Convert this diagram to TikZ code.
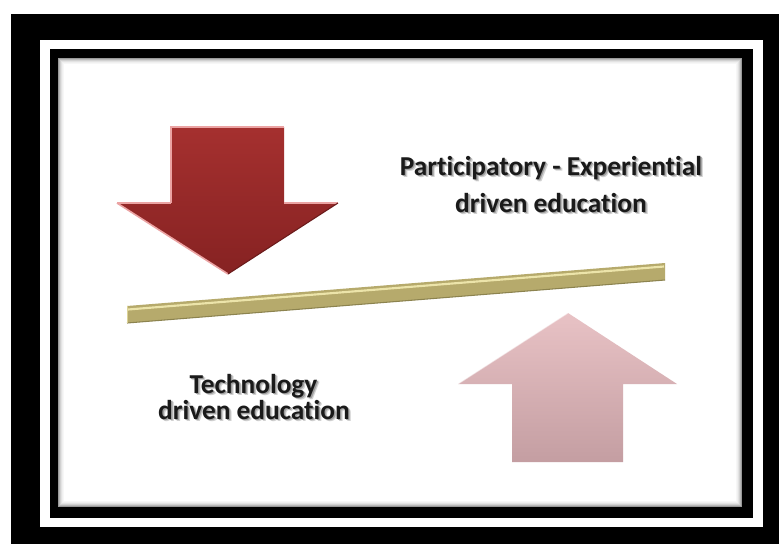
\documentclass[tikz,border=0pt]{standalone}
\usepackage{fontspec}
\setmainfont{Carlito}[Ligatures=NoCommon]
\definecolor{redA}{HTML}{A5302F}
\definecolor{redB}{HTML}{862222}
\definecolor{redHi}{HTML}{EBA3A3}
\definecolor{pinkA}{HTML}{E8C2C5}
\definecolor{pinkB}{HTML}{C49EA2}
\definecolor{barC}{HTML}{B6AA6C}
\definecolor{barHi}{HTML}{ECE4AA}
\definecolor{barLo}{HTML}{8C834F}
\definecolor{txtC}{HTML}{1A1A1A}
\newcommand\shtext[1]{\rlap{\kern1.9pt\raisebox{-1.9pt}{\color{black!18}#1}}\rlap{\kern1pt\raisebox{-1pt}{\color{black!38}#1}}#1}
\tikzset{
  lbl/.style={font=\bfseries\fontsize{20.5}{24}\selectfont, text=txtC, inner sep=0pt, anchor=base},
  px/.style={line width=0.75pt}
}
\begin{document}
\begin{tikzpicture}[x=0.75pt,y=-0.75pt]
\useasboundingbox (0,0) rectangle (779,544);
\fill[white] (0,0) rectangle (779,544);
% frames
\fill[black] (11,14) rectangle (779,544);
\fill[white] (40,40) rectangle (763,527);
\fill[black] (50,49) rectangle (753,518);
\fill[white] (58,58) rectangle (742,507);
\foreach \i/\o in {0/0.40,1/0.28,2/0.18,3/0.11,4/0.06,5/0.03}
  \draw[px,black,opacity=\o] (58.5+\i,58.5+\i) rectangle (741.5-\i,506.5-\i);
% red down arrow
\shade[top color=redA, bottom color=redB]
  (171,127) -- (284,127) -- (284,203) -- (338,203) -- (228,274) -- (117,203) -- (171,203) -- cycle;
\draw[redHi,line width=1.2pt] (117,203) -- (228,274);
\draw[redHi,line width=1pt] (171,203) -- (171,127) -- (284,127);
\draw[redHi,line width=1pt] (117,203) -- (171,203);
\draw[redHi,line width=0.8pt] (284,203) -- (338,203);
\draw[redB!80!black,line width=0.8pt] (338,203) -- (228,274);
% bar
\fill[barC] (127,306) -- (665,263) -- (665,280) -- (127,323) -- cycle;
\draw[barHi,line width=1.6pt] (128,309.5) -- (664,266.5);
\draw[barLo,line width=0.8pt] (127,323) -- (665,280);
\draw[barHi!70!barC,line width=0.8pt] (127.5,306) -- (127.5,323);
% pink up arrow
\shade[top color=pinkA, bottom color=pinkB]
  (568,313) -- (677,384) -- (623,384) -- (623,462) -- (512,462) -- (512,384) -- (458,384) -- cycle;
\draw[white,opacity=0.5,line width=0.8pt] (458,384) -- (568,313);
% texts
\node[lbl] (pe1) at (551,175) {\shtext{Participatory - Experiential}};
\node[lbl] (pe2) at (551,212) {\shtext{driven education}};
\node[lbl] (te1) at (253.5,393) {\shtext{Technology}};
\node[lbl] (te2) at (254,419) {\shtext{driven education}};
\end{tikzpicture}
\end{document}
